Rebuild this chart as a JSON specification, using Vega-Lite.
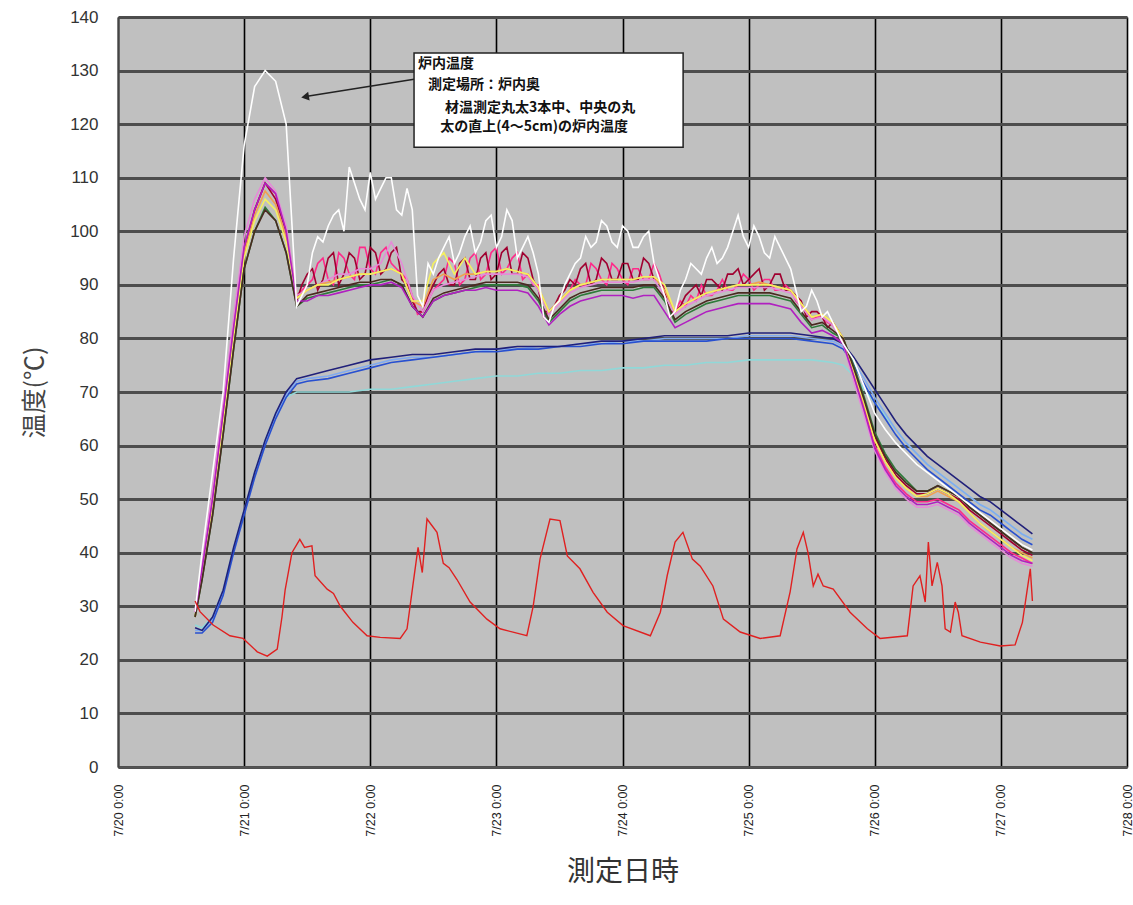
{
"$schema":"https://vega.github.io/schema/vega-lite/v6.json",
"width":1009,"height":750,
"autosize":{"type":"none"},
"padding":{"left":118,"top":17,"right":6,"bottom":138},
"background":"white",
"config":{"view":{"fill":"#c0c0c0","stroke":"#8a8a8a","strokeWidth":1},"font":"Liberation Sans"},
"datasets":{
"kiln":[
{"t":"2008-07-20T14:40","w":29,"p":29,"o":28,"y":28,"g":28,"d":29,"hp":29,"m":29,"k":28},
{"t":"2008-07-20T16:00","w":40,"p":38,"o":36,"y":36,"g":35,"d":36,"hp":37,"m":37,"k":35},
{"t":"2008-07-20T18:00","w":55,"p":52,"o":49,"y":49,"g":47,"d":49,"hp":50,"m":50,"k":47},
{"t":"2008-07-20T20:00","w":70,"p":68,"o":64,"y":64,"g":62,"d":64,"hp":66,"m":66,"k":62},
{"t":"2008-07-20T22:00","w":95,"p":84,"o":81,"y":80,"g":78,"d":81,"hp":82,"m":82,"k":78},
{"t":"2008-07-21T00:00","w":116,"p":99,"o":96,"y":95,"g":93,"d":96,"hp":97,"m":97,"k":93},
{"t":"2008-07-21T02:00","w":127,"p":106,"o":103,"y":102,"g":100,"d":104,"hp":104,"m":104,"k":100},
{"t":"2008-07-21T04:00","w":130,"p":110,"o":107.5,"y":106,"g":104.5,"d":109,"hp":109,"m":109,"k":104},
{"t":"2008-07-21T06:00","w":128,"p":107.5,"o":105,"y":104,"g":102,"d":106,"hp":107,"m":107,"k":102},
{"t":"2008-07-21T08:00","w":120,"p":101,"o":99,"y":98,"g":96,"d":100,"hp":100,"m":100,"k":96},
{"t":"2008-07-21T10:00","w":86,"p":88,"o":87.5,"y":87.5,"g":86,"d":87,"hp":88,"m":87,"k":86},
{"t":"2008-07-21T12:00","w":90,"p":89,"o":89,"y":89,"g":87.5,"d":92,"hp":90,"m":87,"k":88},
{"t":"2008-07-21T14:00","w":99,"p":90,"o":90,"y":90,"g":88,"d":89,"hp":94,"m":88,"k":88.5},
{"t":"2008-07-21T16:00","w":101,"p":91,"o":90.5,"y":90,"g":88.5,"d":95,"hp":91,"m":88,"k":89},
{"t":"2008-07-21T18:00","w":104,"p":92,"o":91,"y":91,"g":89,"d":90,"hp":96,"m":88.5,"k":89.5},
{"t":"2008-07-21T20:00","w":112,"p":92,"o":91.5,"y":91.5,"g":89.5,"d":96,"hp":92,"m":89,"k":90},
{"t":"2008-07-21T22:00","w":106,"p":93,"o":92,"y":92,"g":90,"d":91,"hp":97,"m":89.5,"k":90.5},
{"t":"2008-07-22T00:00","w":111,"p":93,"o":92,"y":92,"g":90,"d":97,"hp":93,"m":90,"k":90.5},
{"t":"2008-07-22T02:00","w":108,"p":94,"o":92.5,"y":92.5,"g":90.5,"d":92,"hp":96,"m":90,"k":91},
{"t":"2008-07-22T04:00","w":110,"p":98,"o":93,"y":93,"g":91,"d":96,"hp":94,"m":90.5,"k":91},
{"t":"2008-07-22T06:00","w":103,"p":94,"o":92,"y":92,"g":90,"d":91,"hp":92,"m":89.5,"k":90},
{"t":"2008-07-22T08:00","w":104,"p":88,"o":87,"y":87,"g":86,"d":87,"hp":88,"m":86,"k":86},
{"t":"2008-07-22T10:00","w":86,"p":85,"o":86,"y":87,"g":84,"d":85,"hp":85,"m":84,"k":84},
{"t":"2008-07-22T12:00","w":92,"p":89,"o":91,"y":94,"g":87,"d":90,"hp":89,"m":87,"k":87.5},
{"t":"2008-07-22T14:00","w":97,"p":90,"o":92,"y":96,"g":88,"d":93,"hp":91,"m":88,"k":88.5},
{"t":"2008-07-22T16:00","w":94,"p":90.5,"o":91,"y":92,"g":88.5,"d":90,"hp":94,"m":88.5,"k":89},
{"t":"2008-07-22T18:00","w":99,"p":91,"o":92,"y":95,"g":89,"d":95,"hp":91,"m":89,"k":89.5},
{"t":"2008-07-22T20:00","w":96,"p":91.5,"o":92,"y":92,"g":89.5,"d":91,"hp":96,"m":89,"k":90},
{"t":"2008-07-22T22:00","w":102,"p":92,"o":92.5,"y":92.5,"g":90,"d":96,"hp":92,"m":89.5,"k":90.5},
{"t":"2008-07-23T00:00","w":97,"p":92,"o":92.5,"y":92.5,"g":90,"d":92,"hp":97,"m":89,"k":90.5},
{"t":"2008-07-23T02:00","w":104,"p":92,"o":93,"y":93,"g":90,"d":97,"hp":93,"m":89,"k":90.5},
{"t":"2008-07-23T04:00","w":95,"p":92,"o":92.5,"y":92.5,"g":90,"d":92,"hp":96,"m":89,"k":90.5},
{"t":"2008-07-23T06:00","w":99,"p":91.5,"o":92,"y":92,"g":89.5,"d":95,"hp":92,"m":88.5,"k":90},
{"t":"2008-07-23T08:00","w":92,"p":89,"o":89.5,"y":89.5,"g":87,"d":89,"hp":90,"m":86,"k":87.5},
{"t":"2008-07-23T10:00","w":83,"p":84.5,"o":85,"y":85,"g":83,"d":85,"hp":85,"m":82.5,"k":83.5},
{"t":"2008-07-23T12:00","w":87,"p":86.5,"o":87,"y":87,"g":85,"d":88,"hp":87,"m":84.5,"k":85.5},
{"t":"2008-07-23T14:00","w":92,"p":88.5,"o":89,"y":89,"g":87,"d":91,"hp":89,"m":86,"k":87.5},
{"t":"2008-07-23T16:00","w":95,"p":89.5,"o":90,"y":90,"g":88,"d":93,"hp":90,"m":87,"k":88.5},
{"t":"2008-07-23T18:00","w":97,"p":90,"o":90.5,"y":90.5,"g":88.5,"d":90,"hp":94,"m":87.5,"k":89},
{"t":"2008-07-23T20:00","w":102,"p":90.5,"o":91,"y":91,"g":89,"d":95,"hp":91,"m":88,"k":89.5},
{"t":"2008-07-23T22:00","w":98,"p":90.5,"o":91,"y":91,"g":89,"d":91,"hp":94,"m":88,"k":89.5},
{"t":"2008-07-24T00:00","w":101,"p":90.5,"o":91,"y":91,"g":89,"d":94,"hp":91,"m":88,"k":89.5},
{"t":"2008-07-24T02:00","w":97,"p":90.5,"o":91,"y":91,"g":89,"d":91,"hp":93,"m":87.5,"k":89.5},
{"t":"2008-07-24T04:00","w":99,"p":91,"o":91.5,"y":91.5,"g":89.5,"d":95,"hp":91,"m":88,"k":90},
{"t":"2008-07-24T06:00","w":94,"p":91,"o":91.5,"y":91.5,"g":89.5,"d":91,"hp":94,"m":88,"k":90},
{"t":"2008-07-24T08:00","w":88,"p":88,"o":89,"y":90,"g":87,"d":89,"hp":89,"m":85,"k":87.5},
{"t":"2008-07-24T10:00","w":85,"p":84.5,"o":85,"y":85,"g":83,"d":85,"hp":85,"m":82,"k":83.5},
{"t":"2008-07-24T12:00","w":91,"p":86,"o":86.5,"y":86.5,"g":84.5,"d":88,"hp":86,"m":83,"k":85},
{"t":"2008-07-24T14:00","w":93,"p":87,"o":87.5,"y":87.5,"g":85.5,"d":90,"hp":87,"m":84,"k":86},
{"t":"2008-07-24T16:00","w":95,"p":88,"o":88.5,"y":88.5,"g":86.5,"d":91,"hp":88,"m":85,"k":87},
{"t":"2008-07-24T18:00","w":94,"p":88.5,"o":89,"y":89,"g":87,"d":90,"hp":89,"m":85.5,"k":87.5},
{"t":"2008-07-24T20:00","w":97,"p":89,"o":89.5,"y":89.5,"g":87.5,"d":92,"hp":89,"m":86,"k":88},
{"t":"2008-07-24T22:00","w":103,"p":89.5,"o":90,"y":90,"g":88,"d":93,"hp":90,"m":86.5,"k":88.5},
{"t":"2008-07-25T00:00","w":97,"p":89.5,"o":90,"y":90,"g":88,"d":91,"hp":91,"m":86.5,"k":88.5},
{"t":"2008-07-25T02:00","w":99,"p":89.5,"o":90.5,"y":90,"g":88,"d":93,"hp":90,"m":86.5,"k":88.5},
{"t":"2008-07-25T04:00","w":95,"p":89.5,"o":90,"y":90,"g":88,"d":90,"hp":91,"m":86.5,"k":88.5},
{"t":"2008-07-25T06:00","w":97,"p":89,"o":89.5,"y":89.5,"g":87.5,"d":92,"hp":89,"m":86,"k":88},
{"t":"2008-07-25T08:00","w":93,"p":88.5,"o":89,"y":89,"g":87,"d":89,"hp":89,"m":85.5,"k":87.5},
{"t":"2008-07-25T10:00","w":85,"p":86,"o":86.5,"y":86.5,"g":84.5,"d":87,"hp":86,"m":83,"k":85},
{"t":"2008-07-25T12:00","w":89,"p":83.5,"o":84,"y":84,"g":82,"d":85,"hp":83.5,"m":81,"k":82.5},
{"t":"2008-07-25T14:00","w":84,"p":84,"o":84.5,"y":84.5,"g":82.5,"d":84,"hp":84,"m":81.5,"k":83},
{"t":"2008-07-25T16:00","w":83,"p":82.5,"o":83,"y":83,"g":81,"d":83,"hp":82.5,"m":80.5,"k":81.5},
{"t":"2008-07-25T18:00","w":79,"p":79,"o":80,"y":80,"g":80,"d":80,"hp":79.5,"m":79,"k":80},
{"t":"2008-07-25T20:00","w":76,"p":72,"o":73.5,"y":74,"g":75,"d":74,"hp":73,"m":73,"k":74.5},
{"t":"2008-07-25T22:00","w":71,"p":65.5,"o":67.5,"y":68,"g":69,"d":68,"hp":67,"m":66.5,"k":68.5},
{"t":"2008-07-26T00:00","w":66,"p":59,"o":61,"y":61,"g":62.5,"d":61.5,"hp":60,"m":59.5,"k":62},
{"t":"2008-07-26T02:00","w":63,"p":55,"o":57,"y":57,"g":58.5,"d":57.5,"hp":56,"m":55.5,"k":58},
{"t":"2008-07-26T04:00","w":60.5,"p":52,"o":54,"y":54,"g":55.5,"d":54.5,"hp":53,"m":52.5,"k":55},
{"t":"2008-07-26T06:00","w":58.5,"p":50,"o":52,"y":52,"g":53.5,"d":52.5,"hp":51,"m":50.5,"k":53},
{"t":"2008-07-26T08:00","w":56.5,"p":48.5,"o":50.5,"y":50.5,"g":51.5,"d":51,"hp":49.5,"m":49,"k":51.5},
{"t":"2008-07-26T10:00","w":55,"p":48.5,"o":50.5,"y":51,"g":51.5,"d":51,"hp":49.5,"m":49,"k":51.5},
{"t":"2008-07-26T12:00","w":53.5,"p":49,"o":51.5,"y":52,"g":52.5,"d":52,"hp":50,"m":49.5,"k":52.5},
{"t":"2008-07-26T14:00","w":52,"p":48,"o":50.5,"y":51,"g":51.5,"d":51,"hp":49,"m":48.5,"k":51.5},
{"t":"2008-07-26T16:00","w":50.5,"p":47,"o":49.5,"y":49.5,"g":50.5,"d":50,"hp":48,"m":47.5,"k":50.5},
{"t":"2008-07-26T18:00","w":49,"p":45,"o":47.5,"y":47.5,"g":48.5,"d":48,"hp":46,"m":45.5,"k":48.5},
{"t":"2008-07-26T20:00","w":47.5,"p":43.5,"o":45.5,"y":45.5,"g":47,"d":46.5,"hp":44.5,"m":44,"k":47},
{"t":"2008-07-26T22:00","w":46,"p":42,"o":44,"y":44,"g":45.5,"d":45,"hp":43,"m":42.5,"k":45.5},
{"t":"2008-07-27T00:00","w":44.5,"p":40.5,"o":42.5,"y":42.5,"g":44,"d":43.5,"hp":41.5,"m":41,"k":44},
{"t":"2008-07-27T02:00","w":43,"p":39,"o":41,"y":41,"g":42.5,"d":42,"hp":40,"m":39.5,"k":42.5},
{"t":"2008-07-27T04:00","w":41.5,"p":38,"o":40,"y":39.5,"g":41,"d":40.5,"hp":39,"m":38.5,"k":41},
{"t":"2008-07-27T06:00","w":40.5,"p":37.5,"o":39,"y":38.5,"g":40,"d":39.5,"hp":38,"m":38,"k":40},
{"t":"2008-07-21T11:00","d":90,"hp":89,"w":88},
{"t":"2008-07-21T13:00","d":93,"hp":91,"w":96},
{"t":"2008-07-21T15:00","d":91,"hp":95,"w":98},
{"t":"2008-07-21T17:00","d":96,"hp":90,"w":103},
{"t":"2008-07-21T19:00","d":92,"hp":95,"w":100},
{"t":"2008-07-21T21:00","d":95,"hp":91,"w":109},
{"t":"2008-07-21T23:00","d":92,"hp":97,"w":104},
{"t":"2008-07-22T01:00","d":96,"hp":92,"w":106},
{"t":"2008-07-22T03:00","d":93,"hp":97,"w":110},
{"t":"2008-07-22T05:00","d":97,"hp":93,"w":104},
{"t":"2008-07-22T07:00","d":90,"hp":91,"w":108},
{"t":"2008-07-22T09:00","d":85,"hp":84.5,"w":88},
{"t":"2008-07-22T11:00","d":88,"hp":87,"w":94},
{"t":"2008-07-22T13:00","d":92,"hp":90,"w":95},
{"t":"2008-07-22T15:00","d":90,"hp":95,"w":99},
{"t":"2008-07-22T17:00","d":94,"hp":90,"w":96},
{"t":"2008-07-22T19:00","d":91,"hp":95,"w":101},
{"t":"2008-07-22T21:00","d":95,"hp":91,"w":98},
{"t":"2008-07-22T23:00","d":91,"hp":96,"w":103},
{"t":"2008-07-23T01:00","d":96,"hp":92,"w":99},
{"t":"2008-07-23T03:00","d":92,"hp":95,"w":102},
{"t":"2008-07-23T05:00","d":96,"hp":91,"w":97},
{"t":"2008-07-23T07:00","d":91,"hp":90,"w":96},
{"t":"2008-07-23T09:00","d":85,"hp":84,"w":84},
{"t":"2008-07-23T11:00","d":86,"hp":86,"w":86},
{"t":"2008-07-23T13:00","d":89,"hp":88,"w":90},
{"t":"2008-07-23T15:00","d":90,"hp":91,"w":94},
{"t":"2008-07-23T17:00","d":94,"hp":90,"w":99},
{"t":"2008-07-23T19:00","d":91,"hp":93,"w":98},
{"t":"2008-07-23T21:00","d":94,"hp":90,"w":101},
{"t":"2008-07-23T23:00","d":91,"hp":93,"w":97},
{"t":"2008-07-24T01:00","d":94,"hp":90,"w":100},
{"t":"2008-07-24T03:00","d":91,"hp":93,"w":97},
{"t":"2008-07-24T05:00","d":94,"hp":91,"w":100},
{"t":"2008-07-24T07:00","d":91,"hp":92,"w":91},
{"t":"2008-07-24T09:00","d":85,"hp":84,"w":84},
{"t":"2008-07-24T11:00","d":86,"hp":87,"w":89},
{"t":"2008-07-24T13:00","d":89,"hp":88,"w":94},
{"t":"2008-07-24T15:00","d":88,"hp":90,"w":92},
{"t":"2008-07-24T17:00","d":91,"hp":88,"w":97},
{"t":"2008-07-24T19:00","d":89,"hp":91,"w":95},
{"t":"2008-07-24T21:00","d":92,"hp":89,"w":100},
{"t":"2008-07-24T23:00","d":90,"hp":92,"w":99},
{"t":"2008-07-25T01:00","d":92,"hp":89,"w":101},
{"t":"2008-07-25T03:00","d":89,"hp":91,"w":96},
{"t":"2008-07-25T05:00","d":92,"hp":89,"w":99},
{"t":"2008-07-25T07:00","d":89,"hp":90,"w":95},
{"t":"2008-07-25T09:00","d":88,"hp":87,"w":89},
{"t":"2008-07-25T11:00","d":84,"hp":85,"w":86},
{"t":"2008-07-25T13:00","d":85,"hp":84,"w":87},
{"t":"2008-07-25T15:00","d":82,"hp":83,"w":85}
],
"core":[
{"t":"2008-07-20T14:40","b1":26,"b2":25,"b3":25.5,"c":26.5},
{"t":"2008-07-20T16:00","b1":25.5,"b2":25,"b3":25.5,"c":26},
{"t":"2008-07-20T18:00","b1":28,"b2":27,"b3":27.5,"c":28},
{"t":"2008-07-20T20:00","b1":33,"b2":32,"b3":32.5,"c":33},
{"t":"2008-07-20T22:00","b1":41,"b2":40,"b3":40.5,"c":41},
{"t":"2008-07-21T00:00","b1":48,"b2":47,"b3":47.5,"c":48},
{"t":"2008-07-21T02:00","b1":55,"b2":54,"b3":54.5,"c":55},
{"t":"2008-07-21T04:00","b1":61,"b2":60,"b3":60.5,"c":61},
{"t":"2008-07-21T06:00","b1":66,"b2":65,"b3":65.5,"c":66},
{"t":"2008-07-21T08:00","b1":70,"b2":69,"b3":69.5,"c":69},
{"t":"2008-07-21T10:00","b1":72.5,"b2":71.5,"b3":72,"c":70},
{"t":"2008-07-21T12:00","b1":73,"b2":72,"b3":72.5,"c":70},
{"t":"2008-07-21T16:00","b1":74,"b2":72.5,"b3":73,"c":70},
{"t":"2008-07-21T20:00","b1":75,"b2":73.5,"b3":74,"c":70},
{"t":"2008-07-22T00:00","b1":76,"b2":74.5,"b3":75,"c":70.5},
{"t":"2008-07-22T04:00","b1":76.5,"b2":75.5,"b3":76,"c":70.5},
{"t":"2008-07-22T08:00","b1":77,"b2":76,"b3":76.5,"c":71},
{"t":"2008-07-22T12:00","b1":77,"b2":76.5,"b3":76.5,"c":71.5},
{"t":"2008-07-22T16:00","b1":77.5,"b2":77,"b3":77,"c":72},
{"t":"2008-07-22T20:00","b1":78,"b2":77.5,"b3":77.5,"c":72.5},
{"t":"2008-07-23T00:00","b1":78,"b2":77.5,"b3":78,"c":73},
{"t":"2008-07-23T04:00","b1":78.5,"b2":78,"b3":78,"c":73},
{"t":"2008-07-23T08:00","b1":78.5,"b2":78,"b3":78.5,"c":73.5},
{"t":"2008-07-23T12:00","b1":78.5,"b2":78.5,"b3":78.5,"c":73.5},
{"t":"2008-07-23T16:00","b1":79,"b2":78.5,"b3":79,"c":74},
{"t":"2008-07-23T20:00","b1":79.5,"b2":79,"b3":79,"c":74},
{"t":"2008-07-24T00:00","b1":79.5,"b2":79,"b3":79.5,"c":74.5},
{"t":"2008-07-24T04:00","b1":80,"b2":79.5,"b3":79.5,"c":74.5},
{"t":"2008-07-24T08:00","b1":80.5,"b2":79.5,"b3":80,"c":75},
{"t":"2008-07-24T12:00","b1":80.5,"b2":79.5,"b3":80,"c":75},
{"t":"2008-07-24T16:00","b1":80.5,"b2":79.5,"b3":80,"c":75.5},
{"t":"2008-07-24T20:00","b1":80.5,"b2":80,"b3":80,"c":75.5},
{"t":"2008-07-25T00:00","b1":81,"b2":80,"b3":80.5,"c":76},
{"t":"2008-07-25T04:00","b1":81,"b2":80,"b3":80.5,"c":76},
{"t":"2008-07-25T08:00","b1":81,"b2":80,"b3":80.5,"c":76},
{"t":"2008-07-25T12:00","b1":80.5,"b2":79.5,"b3":80,"c":76},
{"t":"2008-07-25T16:00","b1":80,"b2":79,"b3":79.5,"c":75.5},
{"t":"2008-07-25T18:00","b1":79,"b2":78,"b3":78.5,"c":75},
{"t":"2008-07-25T20:00","b1":76.5,"b2":75,"b3":75.5,"c":73},
{"t":"2008-07-25T22:00","b1":73.5,"b2":71.5,"b3":72.5,"c":70.5},
{"t":"2008-07-26T00:00","b1":70.5,"b2":68,"b3":69,"c":68},
{"t":"2008-07-26T02:00","b1":67.5,"b2":65,"b3":66,"c":65.5},
{"t":"2008-07-26T04:00","b1":64.5,"b2":62,"b3":63,"c":63},
{"t":"2008-07-26T06:00","b1":62,"b2":59.5,"b3":60.5,"c":60.5},
{"t":"2008-07-26T08:00","b1":60,"b2":57.5,"b3":58.5,"c":58.5},
{"t":"2008-07-26T10:00","b1":58,"b2":55.5,"b3":56.5,"c":56.5},
{"t":"2008-07-26T12:00","b1":56.5,"b2":54,"b3":55,"c":55},
{"t":"2008-07-26T14:00","b1":55,"b2":52.5,"b3":53.5,"c":53.5},
{"t":"2008-07-26T16:00","b1":53.5,"b2":51,"b3":52,"c":52},
{"t":"2008-07-26T18:00","b1":52,"b2":49.5,"b3":50.5,"c":50.5},
{"t":"2008-07-26T20:00","b1":50.5,"b2":48,"b3":49,"c":49},
{"t":"2008-07-26T22:00","b1":49.5,"b2":47,"b3":48,"c":48},
{"t":"2008-07-27T00:00","b1":48,"b2":45.5,"b3":46.5,"c":46.5},
{"t":"2008-07-27T02:00","b1":46.5,"b2":44,"b3":45,"c":45},
{"t":"2008-07-27T04:00","b1":45,"b2":42.5,"b3":43.5,"c":43.5},
{"t":"2008-07-27T06:00","b1":43.5,"b2":41.5,"b3":42.5,"c":42.5}
],
"air":[
{"t":"2008-07-20T14:40","r":31},{"t":"2008-07-20T15:36","r":29},{"t":"2008-07-20T18:06","r":26.5},{"t":"2008-07-20T21:18","r":24.5},{"t":"2008-07-20T23:48","r":24},
{"t":"2008-07-21T02:30","r":21.5},{"t":"2008-07-21T04:24","r":20.7},{"t":"2008-07-21T06:18","r":22},{"t":"2008-07-21T07:12","r":28},{"t":"2008-07-21T07:48","r":33},
{"t":"2008-07-21T09:06","r":40},{"t":"2008-07-21T10:36","r":42.5},{"t":"2008-07-21T11:30","r":41},{"t":"2008-07-21T12:54","r":41.3},{"t":"2008-07-21T13:30","r":35.7},
{"t":"2008-07-21T15:48","r":33.2},{"t":"2008-07-21T17:00","r":32.4},{"t":"2008-07-21T18:18","r":30},{"t":"2008-07-21T20:42","r":27},{"t":"2008-07-21T23:24","r":24.5},
{"t":"2008-07-22T01:54","r":24.2},{"t":"2008-07-22T05:42","r":24},{"t":"2008-07-22T07:00","r":25.8},{"t":"2008-07-22T08:06","r":33.8},{"t":"2008-07-22T09:06","r":41},
{"t":"2008-07-22T09:54","r":36.3},{"t":"2008-07-22T10:48","r":46.3},{"t":"2008-07-22T12:42","r":43.8},{"t":"2008-07-22T13:54","r":38},{"t":"2008-07-22T15:00","r":37.2},
{"t":"2008-07-22T16:30","r":35},{"t":"2008-07-22T19:00","r":30.8},{"t":"2008-07-22T22:12","r":27.6},{"t":"2008-07-23T00:42","r":25.8},{"t":"2008-07-23T05:48","r":24.5},
{"t":"2008-07-23T07:00","r":30},{"t":"2008-07-23T08:18","r":38.8},{"t":"2008-07-23T10:12","r":46.3},{"t":"2008-07-23T12:06","r":46},{"t":"2008-07-23T13:30","r":39.4},
{"t":"2008-07-23T15:54","r":37},{"t":"2008-07-23T18:24","r":32.6},{"t":"2008-07-23T21:06","r":28.9},{"t":"2008-07-24T00:06","r":26.4},{"t":"2008-07-24T05:18","r":24.5},
{"t":"2008-07-24T07:12","r":28.9},{"t":"2008-07-24T08:30","r":35.7},{"t":"2008-07-24T10:00","r":42},{"t":"2008-07-24T11:30","r":43.8},{"t":"2008-07-24T13:18","r":38.8},
{"t":"2008-07-24T14:48","r":37.5},{"t":"2008-07-24T17:12","r":33.8},{"t":"2008-07-24T19:12","r":27.6},{"t":"2008-07-24T22:24","r":25.2},{"t":"2008-07-25T02:12","r":24},
{"t":"2008-07-25T06:00","r":24.5},{"t":"2008-07-25T07:54","r":32.7},{"t":"2008-07-25T09:12","r":40.7},{"t":"2008-07-25T10:24","r":43.8},{"t":"2008-07-25T11:18","r":40},
{"t":"2008-07-25T12:18","r":33.8},{"t":"2008-07-25T13:12","r":36},{"t":"2008-07-25T14:12","r":33.8},{"t":"2008-07-25T16:06","r":33.2},{"t":"2008-07-25T19:18","r":28.9},
{"t":"2008-07-25T22:36","r":25.8},{"t":"2008-07-26T01:00","r":24},{"t":"2008-07-26T06:12","r":24.5},{"t":"2008-07-26T07:18","r":33.8},{"t":"2008-07-26T08:36","r":35.7},
{"t":"2008-07-26T09:36","r":30.8},{"t":"2008-07-26T10:12","r":42},{"t":"2008-07-26T10:54","r":33.8},{"t":"2008-07-26T11:54","r":38.2},{"t":"2008-07-26T12:48","r":33.8},
{"t":"2008-07-26T13:24","r":25.8},{"t":"2008-07-26T14:24","r":25.2},{"t":"2008-07-26T15:18","r":30.8},{"t":"2008-07-26T15:54","r":28.9},{"t":"2008-07-26T16:36","r":24.5},
{"t":"2008-07-26T20:06","r":23.3},{"t":"2008-07-26T23:54","r":22.6},{"t":"2008-07-27T02:42","r":22.8},{"t":"2008-07-27T04:06","r":27},{"t":"2008-07-27T05:00","r":33},
{"t":"2008-07-27T05:36","r":37},{"t":"2008-07-27T06:00","r":31}
]
},
"encoding":{
"x":{"field":"t","type":"temporal",
 "scale":{"domain":[{"year":2008,"month":7,"date":20},{"year":2008,"month":7,"date":28}]},
 "axis":{"title":"測定日時","titleFont":"Noto Sans CJK JP","titleFontSize":28,"titleFontWeight":"normal","titleColor":"#333333","titlePadding":22,
  "format":"%-m/%-d %-H:%M","labelAngle":270,"labelFontSize":12.5,"labelColor":"#222222","labelPadding":17,"labelOverlap":false,"labelFlush":false,
  "ticks":false,"tickCount":{"interval":"day","step":1},"grid":true,"gridColor":"#000000","gridWidth":1.6,"domainColor":"#555555","domainWidth":2}},
"y":{"field":"v","type":"quantitative",
 "scale":{"domain":[0,140],"nice":false},
 "axis":{"title":"温度(℃)","titleFont":"Noto Sans CJK JP","titleFontSize":25,"titleFontWeight":"normal","titleColor":"#444444","titlePadding":22,
  "values":[0,10,20,30,40,50,60,70,80,90,100,110,120,130,140],"labelFontSize":17,"labelColor":"#333333","labelPadding":20,
  "ticks":false,"grid":true,"gridColor":"#4d4d4d","gridWidth":3,"domainColor":"#444444","domainWidth":2}}
},
"layer":[
{"data":{"name":"core"},"transform":[{"fold":["c","b3","b2","b1"],"as":["s","v"]},{"filter":"isValid(datum.v)"}],
 "mark":{"type":"line","strokeWidth":1.6},
 "encoding":{"color":{"field":"s","type":"nominal","legend":null,
  "scale":{"domain":["w","p","o","y","g","d","hp","m","k","b1","b2","b3","c","r"],"range":["#ffffff","#e68ad8","#f0a050","#f4f060","#2e7a3a","#a00030","#ff2a8a","#b020c0","#4a2a20","#20207a","#2850d0","#80aaf0","#90d8d8","#e02020"]}}}},
{"data":{"name":"kiln"},"transform":[{"fold":["hp","d","p","o","y","g","k","m","w"],"as":["s","v"]},{"filter":"isValid(datum.v)"}],
 "mark":{"type":"line","strokeWidth":1.6},
 "encoding":{"color":{"field":"s","type":"nominal","legend":null,
  "scale":{"domain":["w","p","o","y","g","d","hp","m","k","b1","b2","b3","c","r"],"range":["#ffffff","#e68ad8","#f0a050","#f4f060","#2e7a3a","#a00030","#ff2a8a","#b020c0","#4a2a20","#20207a","#2850d0","#80aaf0","#90d8d8","#e02020"]}}}},
{"data":{"name":"air"},"transform":[{"fold":["r"],"as":["s","v"]},{"filter":"isValid(datum.v)"}],
 "mark":{"type":"line","strokeWidth":1.4},
 "encoding":{"color":{"field":"s","type":"nominal","legend":null,
  "scale":{"domain":["w","p","o","y","g","d","hp","m","k","b1","b2","b3","c","r"],"range":["#ffffff","#e68ad8","#f0a050","#f4f060","#2e7a3a","#a00030","#ff2a8a","#b020c0","#4a2a20","#20207a","#2850d0","#80aaf0","#90d8d8","#e02020"]}}}},
{"data":{"values":[{"t":"2008-07-22T08:20","t2":"2008-07-24T11:32","v":133.3,"v2":115.7}]},
 "mark":{"type":"rect","fill":"#ffffff","stroke":"#222222","strokeWidth":1.5},
 "encoding":{"x2":{"field":"t2"},"y2":{"field":"v2"}}},
{"data":{"values":[
 {"t":"2008-07-22T09:06","v":131.2,"label":"炉内温度"},
 {"t":"2008-07-22T11:00","v":127.4,"label":"測定場所：炉内奥"},
 {"t":"2008-07-22T14:14","v":123.1,"label":"材温測定丸太3本中、中央の丸"},
 {"t":"2008-07-22T13:18","v":119.4,"label":"太の直上(4～5cm)の炉内温度"}]},
 "mark":{"type":"text","align":"left","baseline":"middle","font":"Noto Sans CJK JP","fontSize":14,"fontWeight":"bold","color":"#111111"},
 "encoding":{"text":{"field":"label"}}},
{"data":{"values":[{"t":"2008-07-22T08:20","v":128.4,"t2":"2008-07-21T12:00","v2":125.2}]},
 "mark":{"type":"rule","stroke":"#222222","strokeWidth":1.5},
 "encoding":{"x2":{"field":"t2"},"y2":{"field":"v2"}}},
{"data":{"values":[{"t":"2008-07-21T11:36","v":125.1}]},
 "mark":{"type":"point","shape":"triangle-up","angle":260.6,"filled":true,"color":"#222222","opacity":1,"size":80},
 "encoding":{}}
]
}
